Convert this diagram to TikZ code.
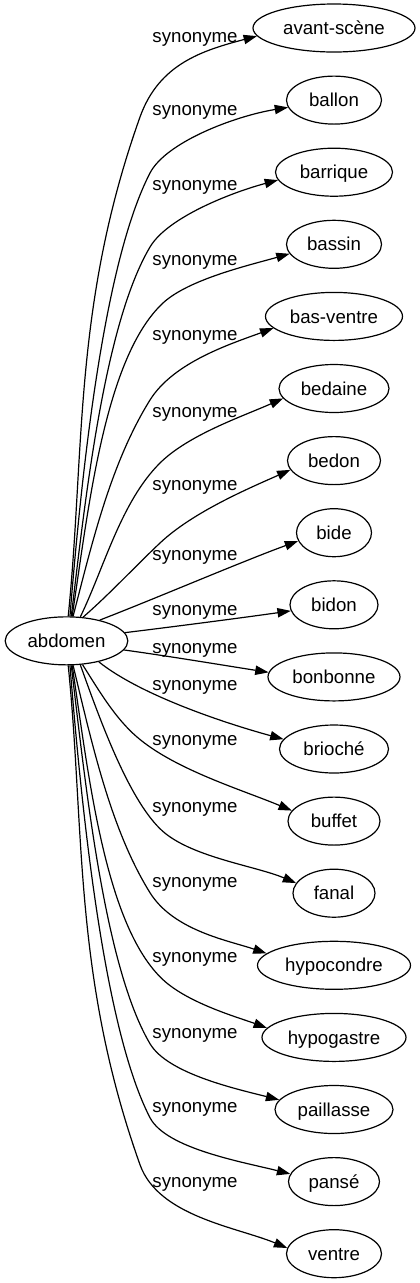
\documentclass[tikz,border=0pt]{standalone}
\usepackage{fontspec}
\setmainfont{Liberation Sans}
\usetikzlibrary{shapes.geometric,arrows.meta}
\begin{document}
\begin{tikzpicture}[x=0.75pt,y=-0.75pt,
  word/.style={ellipse,draw,line width=0.9pt,inner sep=0pt,minimum height=36pt,
    text height=10pt,text depth=0pt,font=\fontsize{14pt}{16pt}\selectfont},
  lbl/.style={anchor=base,inner sep=0pt,font=\fontsize{14pt}{16pt}\selectfont},
  syn/.style={draw,line width=0.9pt,-{Triangle[length=10pt,width=7pt]}}]
\fill[white] (0,0) rectangle (420,1283);
\useasboundingbox (0,0) rectangle (420,1283);
% nodes
\node[word,minimum width=92pt] (abd) at (66.5,640.85) {abdomen};
\node[word,minimum width=121.5pt] (avant) at (334,28) {avant-scène};
\node[word,minimum width=71.25pt] (ballon) at (334,100.1) {ballon};
\node[word,minimum width=87.75pt] (barrique) at (334,172.2) {barrique};
\node[word,minimum width=71.25pt] (bassin) at (334,244.3) {bassin};
\node[word,minimum width=102.75pt] (basventre) at (334,316.4) {bas-ventre};
\node[word,minimum width=82.5pt] (bedaine) at (334,388.5) {bedaine};
\node[word,minimum width=69.75pt] (bedon) at (334,460.6) {bedon};
\node[word,minimum width=56.25pt] (bide) at (334,532.7) {bide};
\node[word,minimum width=66pt] (bidon) at (334,604.8) {bidon};
\node[word,minimum width=99pt] (bonbonne) at (334,676.9) {bonbonne};
\node[word,minimum width=81.75pt] (brioche) at (334,749) {brioché};
\node[word,minimum width=69pt] (buffet) at (334,821.1) {buffet};
\node[word,minimum width=61.5pt] (fanal) at (334,893.2) {fanal};
\node[word,minimum width=114.75pt] (hypocondre) at (334,965.3) {hypocondre};
\node[word,minimum width=108pt] (hypogastre) at (334,1037.4) {hypogastre};
\node[word,minimum width=88.5pt] (paillasse) at (334,1109.5) {paillasse};
\node[word,minimum width=68.25pt] (panse) at (334,1181.6) {pansé};
\node[word,minimum width=71.25pt] (ventre) at (334,1253.7) {ventre};
% edges
\draw[syn] (abd.86) .. controls (85,450) and (73,305) .. (140,117) .. controls (159,64) and (202,50.6) .. (avant.186);
\draw[syn] (abd.82) .. controls (82,467) and (104,262) .. (150,173) .. controls (166.1,142) and (235,116) .. (ballon.189);
\draw[syn] (abd.79) .. controls (85.4,497.8) and (104.2,324.5) .. (150,247) .. controls (167.8,216.9) and (233,192) .. (barrique.188);
\draw[syn] (abd.77) .. controls (88.5,508) and (104.6,357.4) .. (163,303) .. controls (188.6,279.2) and (250,265) .. (bassin.192);
\draw[syn] (abd.75) .. controls (91.75,544.4) and (110.4,463.7) .. (150,400) .. controls (173.8,361.8) and (232.1,343.4) .. (basventre.191);
\draw[syn] (abd.60) .. controls (104.2,567.5) and (121,501.7) .. (160,463) .. controls (188.4,434.8) and (242.7,416.3) .. (bedaine.191);
\draw[syn] (abd.55) .. controls (109,594.6) and (134.6,567) .. (160,543) .. controls (192.7,512.1) and (249.5,488) .. (bedon.192);
\draw[syn] (abd.32) .. controls (155.8,598.4) and (242.2,561.4) .. (bide.193);
\draw[syn] (abd.8) .. controls (173.7,626.7) and (241.9,617.8) .. (bidon.188);
\draw[syn] (abd.351) .. controls (168,656) and (225,665.5) .. (bonbonne.176);
\draw[syn] (abd.327) .. controls (140.9,695.5) and (226.3,723.6) .. (brioche.169);
\draw[syn] (abd.304) .. controls (98.2,689.2) and (114.3,717.4) .. (137,737) .. controls (174.9,769.6) and (242.1,789.8) .. (buffet.166);
\draw[syn] (abd.300) .. controls (100,720) and (128,797.3) .. (160,828.7) .. controls (188.4,856.9) and (255.3,865.7) .. (fanal.165);
\draw[syn] (abd.285) .. controls (91.75,742.3) and (110.4,829) .. (150,892.7) .. controls (173.8,930.9) and (229.4,940.7) .. (hypocondre.170);
\draw[syn] (abd.283) .. controls (88.5,773.7) and (104.6,925.3) .. (163,979.7) .. controls (188.6,1003.5) and (239.4,1017.8) .. (hypogastre.172);
\draw[syn] (abd.281) .. controls (85.4,783.9) and (104.2,966.2) .. (150,1043.7) .. controls (167.8,1073.8) and (236.8,1089) .. (paillasse.170);
\draw[syn] (abd.278) .. controls (82,814.7) and (104,1028.7) .. (150,1117.7) .. controls (166.1,1148.7) and (243,1162) .. (panse.170);
\draw[syn] (abd.274) .. controls (85,831.7) and (73,976.7) .. (140,1164.7) .. controls (158.5,1216.5) and (237,1227.1) .. (ventre.173);
% labels
\node[lbl] (l1) at (195,42) {synonyme};
\node[lbl] (l2) at (195,115) {synonyme};
\node[lbl] (l3) at (195,190) {synonyme};
\node[lbl] (l4) at (195,265) {synonyme};
\node[lbl] (l5) at (195,340) {synonyme};
\node[lbl] (l6) at (195,417) {synonyme};
\node[lbl] (l7) at (195,490) {synonyme};
\node[lbl] (l8) at (195,560) {synonyme};
\node[lbl] (l9) at (195,615) {synonyme};
\node[lbl] (l10) at (195,653) {synonyme};
\node[lbl] (l11) at (195,690) {synonyme};
\node[lbl] (l12) at (195,745) {synonyme};
\node[lbl] (l13) at (195,812) {synonyme};
\node[lbl] (l14) at (195,887) {synonyme};
\node[lbl] (l15) at (195,962) {synonyme};
\node[lbl] (l16) at (195,1038) {synonyme};
\node[lbl] (l17) at (195,1112) {synonyme};
\node[lbl] (l18) at (195,1187) {synonyme};
\end{tikzpicture}
\end{document}
